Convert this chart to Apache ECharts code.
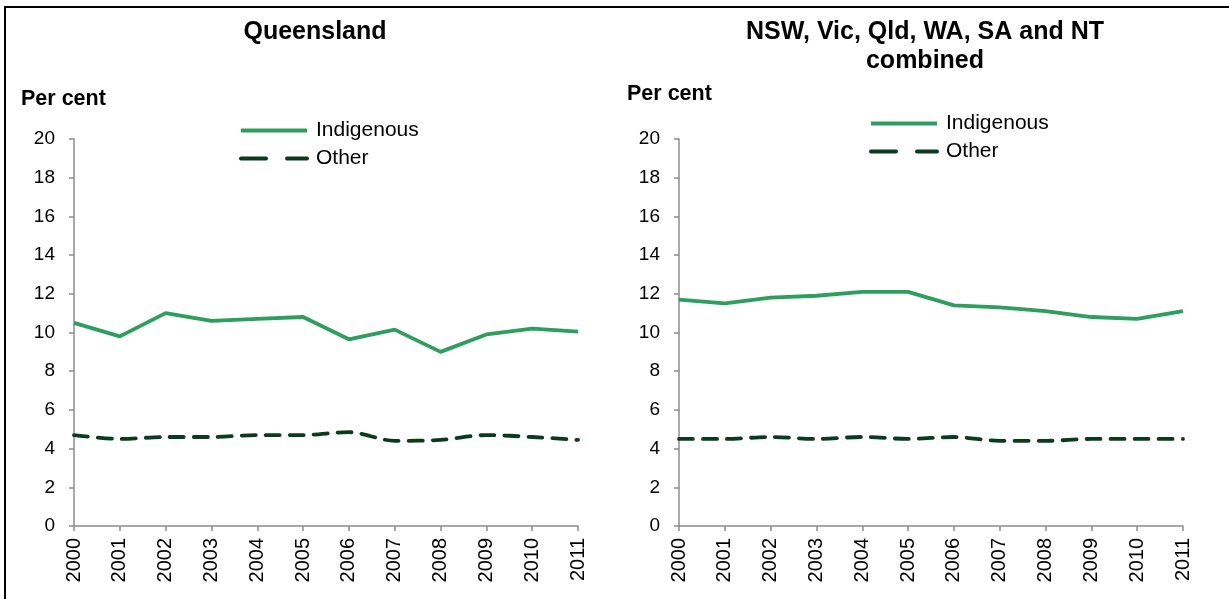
<!DOCTYPE html>
<html lang="en">
<head>
    <meta charset="UTF-8">
    <title>Per cent, Indigenous and other</title>
    <script src="https://cdn.jsdelivr.net/npm/echarts@6/dist/echarts.min.js"></script>
    <style>
        html, body { margin: 0; padding: 0; background: #fff; }
        #chart { width: 1229px; height: 599px; }
    </style>
</head>
<body>
<div id="chart"></div>
<script>
    var years = ['2000', '2001', '2002', '2003', '2004', '2005',
                 '2006', '2007', '2008', '2009', '2010', '2011'];

    // Queensland
    var qldIndigenous = [10.5, 9.8, 11.0, 10.6, 10.7, 10.8, 9.65, 10.15, 9.0, 9.9, 10.2, 10.05];
    var qldOther      = [4.7, 4.5, 4.6, 4.6, 4.7, 4.7, 4.85, 4.4, 4.45, 4.7, 4.6, 4.45];

    // NSW, Vic, Qld, WA, SA and NT combined
    var allIndigenous = [11.7, 11.5, 11.8, 11.9, 12.1, 12.1, 11.4, 11.3, 11.1, 10.8, 10.7, 11.1];
    var allOther      = [4.5, 4.5, 4.6, 4.5, 4.6, 4.5, 4.6, 4.4, 4.4, 4.5, 4.5, 4.5];

    var GREEN = '#2e9e5f';
    var DARK = '#0b3a20';
    var AXIS = '#8c8c8c';
    var FONT = '"Liberation Sans", Arial, sans-serif';

    var myChart = echarts.init(document.getElementById('chart'));

    function xAxisFor(idx) {
        return {
            type: 'category',
            gridIndex: idx,
            data: years,
            boundaryGap: false,
            axisLine: { lineStyle: { color: AXIS, width: 1.5 } },
            axisTick: { length: 5, lineStyle: { color: AXIS, width: 1.5 } },
            axisLabel: { rotate: 90, margin: 12, color: '#000', fontSize: 20, fontFamily: FONT, interval: 0 },
            splitLine: { show: false }
        };
    }

    function yAxisFor(idx) {
        return {
            type: 'value',
            gridIndex: idx,
            min: 0, max: 20, interval: 2,
            axisLine: { show: true, lineStyle: { color: AXIS, width: 1.5 } },
            axisTick: { show: true, length: 5, lineStyle: { color: AXIS, width: 1.5 } },
            axisLabel: { margin: 19, color: '#000', fontSize: 19, fontFamily: FONT },
            splitLine: { show: false }
        };
    }

    function lineSeries(name, idx, data, dashed) {
        return {
            name: name,
            type: 'line',
            xAxisIndex: idx,
            yAxisIndex: idx,
            data: data,
            symbol: 'none',
            smooth: dashed ? 0.3 : false,
            lineStyle: {
                color: dashed ? DARK : GREEN,
                width: 3.8,
                type: dashed ? [14, 10] : 'solid',
                cap: dashed ? 'round' : 'butt'
            },
            itemStyle: { color: dashed ? DARK : GREEN },
            animation: false
        };
    }

    function legendAt(left, top) {
        return {
            orient: 'vertical',
            left: left,
            top: top,
            itemWidth: 66,
            itemHeight: 14,
            itemGap: 7,
            padding: 0,
            data: [
                { name: 'Indigenous', lineStyle: { type: 'solid' } },
                { name: 'Other', lineStyle: { type: [25, 21] } }
            ],
            itemStyle: { opacity: 0 },
            lineStyle: { width: 4 },
            textStyle: { color: '#000', fontSize: 21, fontFamily: FONT, lineHeight: 21, padding: [0, 0, 0, 4] }
        };
    }

    var titleFont = 'bold 25px ' + FONT;
    var unitFont = 'bold 21.5px ' + FONT;

    var option = {
        backgroundColor: '#fff',
        grid: [
            { left: 74, top: 139, width: 504, height: 387 },
            { left: 679, top: 139, width: 504, height: 387 }
        ],
        xAxis: [xAxisFor(0), xAxisFor(1)],
        yAxis: [yAxisFor(0), yAxisFor(1)],
        legend: [legendAt(239, 120), legendAt(869, 113)],
        series: [
            lineSeries('Indigenous', 0, qldIndigenous, false),
            lineSeries('Other', 0, qldOther, true),
            lineSeries('Indigenous', 1, allIndigenous, false),
            lineSeries('Other', 1, allOther, true)
        ],
        graphic: [
            { type: 'rect', shape: { x: 5, y: 7, width: 1300, height: 700 },
              style: { fill: 'none', stroke: '#000', lineWidth: 2 }, silent: true },
            { type: 'text', x: 315, y: 32,
              style: { text: 'Queensland', font: titleFont, fill: '#000', textAlign: 'center', textVerticalAlign: 'middle' } },
            { type: 'text', x: 925, y: 32,
              style: { text: 'NSW, Vic, Qld, WA, SA and NT', font: titleFont, fill: '#000', textAlign: 'center', textVerticalAlign: 'middle' } },
            { type: 'text', x: 925, y: 61,
              style: { text: 'combined', font: titleFont, fill: '#000', textAlign: 'center', textVerticalAlign: 'middle' } },
            { type: 'text', x: 21, y: 99,
              style: { text: 'Per cent', font: unitFont, fill: '#000', textAlign: 'left', textVerticalAlign: 'middle' } },
            { type: 'text', x: 627, y: 94,
              style: { text: 'Per cent', font: unitFont, fill: '#000', textAlign: 'left', textVerticalAlign: 'middle' } }
        ]
    };

    myChart.setOption(option);
</script>
</body>
</html>
